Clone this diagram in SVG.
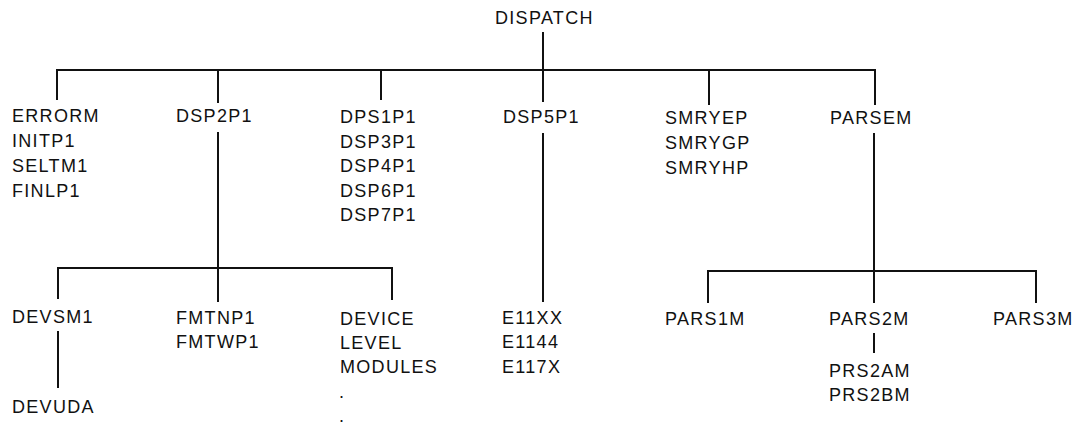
<svg xmlns="http://www.w3.org/2000/svg" width="1075" height="425" viewBox="0 0 1075 425">
<style>
text{font-family:"Liberation Sans",Arial,Helvetica,sans-serif;font-size:18px;letter-spacing:1.3px;fill:#111}
.c{fill:none;stroke:#111;stroke-width:2}
</style>
<rect width="1075" height="425" fill="#fff"/>
<g id="connectors">
<path class="c" d="M543 32V70"/>
<path class="c" d="M57 100V70H875V105"/>
<path class="c" d="M218 70V103M381 70V100M543 70V102M709 70V105"/>
<path class="c" d="M218 132V302"/>
<path class="c" d="M58 299V268H392V300"/>
<path class="c" d="M543 133V302"/>
<path class="c" d="M874 133V303"/>
<path class="c" d="M708 303V271H1036V303"/>
<path class="c" d="M58 331V388"/>
<path class="c" d="M874 333V353"/>
</g>
<g id="dispatch"><text x="495" y="24">DISPATCH</text></g>
<g id="errorm"><text x="12" y="122">ERRORM</text><text x="12" y="147">INITP1</text><text x="12" y="172">SELTM1</text><text x="12" y="197">FINLP1</text></g>
<g id="dsp2p1"><text x="176" y="122">DSP2P1</text></g>
<g id="dps1p1"><text x="340" y="123">DPS1P1</text><text x="340" y="148">DSP3P1</text><text x="340" y="172">DSP4P1</text><text x="340" y="197">DSP6P1</text><text x="340" y="221">DSP7P1</text></g>
<g id="dsp5p1"><text x="503" y="123">DSP5P1</text></g>
<g id="smryep"><text x="665" y="124">SMRYEP</text><text x="665" y="149">SMRYGP</text><text x="665" y="174">SMRYHP</text></g>
<g id="parsem"><text x="830" y="124">PARSEM</text></g>
<g id="devsm1"><text x="12" y="323">DEVSM1</text></g>
<g id="devuda"><text x="12" y="413">DEVUDA</text></g>
<g id="fmtnp1"><text x="176" y="324">FMTNP1</text><text x="176" y="348">FMTWP1</text></g>
<g id="device"><text x="340" y="325">DEVICE</text><text x="340" y="349">LEVEL</text><text x="340" y="373">MODULES</text><text x="339" y="398">.</text><text x="339" y="422">.</text></g>
<g id="e11xx"><text x="502" y="324">E11XX</text><text x="502" y="348">E1144</text><text x="502" y="373">E117X</text></g>
<g id="pars1m"><text x="665" y="325">PARS1M</text></g>
<g id="pars2m"><text x="829" y="325">PARS2M</text></g>
<g id="prs2am"><text x="829" y="377">PRS2AM</text><text x="829" y="401">PRS2BM</text></g>
<g id="pars3m"><text x="993" y="325">PARS3M</text></g>
</svg>
